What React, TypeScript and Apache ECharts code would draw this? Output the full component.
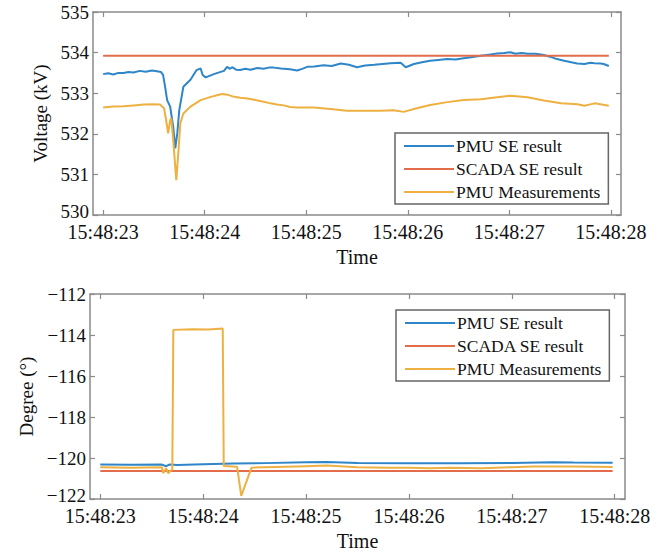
import { useEffect, useRef } from "react";
import * as echarts from "echarts";

const seriesNames = ["PMU SE result", "SCADA SE result", "PMU Measurements"];
const seriesColors = ["#2e86c8", "#e36c4c", "#eeb040"];
const xTicks = [23, 24, 25, 26, 27, 28];

// Voltage chart (kV), time in seconds after 15:48:00
const vPmuSeT = [23.0, 23.05, 23.1, 23.15, 23.2, 23.25, 23.3, 23.36, 23.42, 23.48, 23.53, 23.57, 23.59, 23.61, 23.63, 23.66, 23.69, 23.71, 23.73, 23.75, 23.79, 23.86, 23.92, 23.96, 23.98, 24.01, 24.09, 24.15, 24.19, 24.22, 24.25, 24.27, 24.31, 24.35, 24.4, 24.45, 24.52, 24.58, 24.63, 24.68, 24.75, 24.84, 24.91, 24.96, 25.01, 25.08, 25.17, 25.25, 25.34, 25.42, 25.5, 25.58, 25.67, 25.75, 25.83, 25.93, 25.98, 26.06, 26.14, 26.22, 26.3, 26.39, 26.47, 26.55, 26.64, 26.72, 26.8, 26.88, 26.95, 27.01, 27.06, 27.12, 27.18, 27.26, 27.34, 27.4, 27.47, 27.54, 27.61, 27.67, 27.74, 27.8, 27.84, 27.9, 27.93, 27.98];
const vPmuSeV = [533.47, 533.49, 533.46, 533.5, 533.5, 533.52, 533.51, 533.55, 533.53, 533.56, 533.54, 533.52, 533.45, 533.16, 532.83, 532.67, 532.17, 531.64, 532.01, 532.59, 533.16, 533.33, 533.57, 533.61, 533.45, 533.39, 533.47, 533.52, 533.55, 533.65, 533.6, 533.64, 533.58, 533.57, 533.6, 533.58, 533.62, 533.6, 533.63, 533.63, 533.61, 533.59, 533.56, 533.6, 533.65, 533.66, 533.69, 533.67, 533.73, 533.7, 533.64, 533.68, 533.7, 533.72, 533.74, 533.75, 533.64, 533.72, 533.76, 533.8, 533.82, 533.84, 533.83, 533.86, 533.89, 533.92, 533.95, 533.98, 533.99, 534.01, 533.97, 533.99, 533.97, 533.97, 533.94, 533.9, 533.84, 533.8, 533.76, 533.73, 533.72, 533.75, 533.74, 533.73, 533.72, 533.67];
const vScadaT = [23.0, 27.98];
const vScadaV = [533.92, 533.92];
const vMeasT = [23.0, 23.1, 23.2, 23.3, 23.4, 23.5, 23.56, 23.6, 23.62, 23.64, 23.66, 23.67, 23.69, 23.72, 23.74, 23.76, 23.79, 23.86, 23.96, 24.06, 24.12, 24.17, 24.23, 24.29, 24.35, 24.42, 24.5, 24.58, 24.65, 24.71, 24.78, 24.84, 24.91, 25.07, 25.24, 25.4, 25.57, 25.73, 25.86, 25.96, 26.06, 26.22, 26.39, 26.55, 26.72, 26.88, 27.01, 27.18, 27.34, 27.51, 27.67, 27.74, 27.84, 27.98];
const vMeasV = [532.65, 532.67, 532.68, 532.7, 532.72, 532.73, 532.72, 532.63, 532.34, 532.01, 532.34, 532.38, 531.85, 530.86, 531.52, 532.26, 532.5, 532.67, 532.83, 532.91, 532.95, 532.98, 532.96, 532.91, 532.89, 532.87, 532.83, 532.79, 532.75, 532.72, 532.7, 532.66, 532.65, 532.65, 532.61, 532.57, 532.57, 532.57, 532.58, 532.54, 532.61, 532.71, 532.78, 532.83, 532.85, 532.9, 532.94, 532.9, 532.82, 532.75, 532.73, 532.69, 532.75, 532.69];

// Angle chart (degree)
const aPmuSeT = [23.0, 23.3, 23.6, 23.64, 23.67, 23.75, 24.0, 24.3, 24.6, 25.0, 25.2, 25.5, 26.0, 26.5, 27.0, 27.4, 27.6, 27.98];
const aPmuSeV = [-120.32, -120.33, -120.32, -120.4, -120.32, -120.34, -120.3, -120.27, -120.25, -120.21, -120.2, -120.24, -120.25, -120.25, -120.24, -120.21, -120.22, -120.23];
const aScadaT = [23.0, 27.98];
const aScadaV = [-120.64, -120.64];
const aMeasT = [23.0, 23.3, 23.6, 23.61, 23.64, 23.66, 23.7, 23.71, 23.9, 24.05, 24.19, 24.2, 24.33, 24.37, 24.47, 24.7, 25.0, 25.2, 25.5, 25.8, 26.0, 26.2, 26.4, 26.7, 27.0, 27.2, 27.6, 27.98];
const aMeasV = [-120.45, -120.47, -120.45, -120.74, -120.5, -120.74, -120.55, -113.75, -113.72, -113.73, -113.68, -120.39, -120.43, -121.85, -120.47, -120.44, -120.4, -120.37, -120.45, -120.48, -120.47, -120.5, -120.48, -120.5, -120.45, -120.42, -120.41, -120.44];

const FONT = "Liberation Serif";
const AXIS_COLOR = "#8a8a8a";

function zip(t: number[], v: number[]) {
  return t.map((x, i) => [x, v[i]]);
}

function numLabel(v: number) {
  return v < 0 ? "\u2212" + Math.abs(v) : String(v);
}

function xAxes(gridIndex: number) {
  const common = {
    gridIndex,
    type: "value" as const,
    min: 22.9,
    max: 28.1,
    splitLine: { show: false },
    axisLine: { show: true, onZero: false, lineStyle: { color: AXIS_COLOR, width: 1.5 } },
    axisTick: { show: true, inside: true, length: 5, customValues: xTicks, lineStyle: { color: AXIS_COLOR, width: 1.2 } },
  };
  return [
    {
      ...common,
      position: "bottom",
      axisLabel: {
        customValues: xTicks,
        formatter: (v: number) => "15:48:" + v,
        fontSize: 20,
        lineHeight: 14,
        fontFamily: FONT,
        color: "#111",
        margin: 10,
      },
      name: "Time",
      nameLocation: "middle",
      nameGap: 32,
      nameTextStyle: { fontSize: 20, fontFamily: FONT, color: "#111" },
    },
    { ...common, position: "top", axisLabel: { show: false } },
  ];
}

function yAxes(gridIndex: number, min: number, max: number, interval: number, name: string, nameGap: number) {
  const common = {
    gridIndex,
    type: "value" as const,
    min,
    max,
    interval,
    splitLine: { show: false },
    axisLine: { show: true, onZero: false, lineStyle: { color: AXIS_COLOR, width: 1.5 } },
    axisTick: { show: true, inside: true, length: 5, lineStyle: { color: AXIS_COLOR, width: 1.2 } },
  };
  return [
    {
      ...common,
      position: "left",
      axisLabel: {
        formatter: (v: number) => (v === min ? "{lo|" + numLabel(v) + "}" : numLabel(v)),
        rich: { lo: { fontSize: 19, lineHeight: 13, fontFamily: FONT, color: "#111", padding: [0, 0, 8, 0] } },
        fontSize: 19,
        lineHeight: 13,
        fontFamily: FONT,
        color: "#111",
        margin: 4,
      },
      name,
      nameLocation: "middle",
      nameGap,
      nameRotate: 90,
      nameTextStyle: { fontSize: 19, fontFamily: FONT, color: "#111" },
    },
    { ...common, position: "right", axisLabel: { show: false } },
  ];
}

function legend(left: number, top: number) {
  return {
    left,
    top,
    orient: "vertical",
    data: seriesNames,
    itemWidth: 50,
    itemHeight: 14,
    itemGap: 5,
    itemStyle: { opacity: 0 },
    borderColor: "#666",
    borderWidth: 1.5,
    borderRadius: 0,
    backgroundColor: "#fff",
    padding: [4, 8, 3, 8],
    textStyle: { fontSize: 17.5, fontFamily: FONT, color: "#111", padding: [0, 0, 0, -3] },
  };
}

function lineSeries(name: string, idx: number, axis: number, data: number[][]) {
  return {
    name,
    type: "line",
    xAxisIndex: axis * 2,
    yAxisIndex: axis * 2,
    data,
    symbol: "none",
    showSymbol: false,
    lineStyle: { width: 2, color: seriesColors[idx] },
    itemStyle: { color: seriesColors[idx] },
  };
}

export default function App() {
  const ref = useRef<HTMLDivElement>(null);
  useEffect(() => {
    if (!ref.current) return;
    const chart = echarts.init(ref.current, null, { renderer: "svg" });
    chart.setOption({
      animation: false,
      backgroundColor: "#fff",
      grid: [
        { left: 93, top: 12, width: 528, height: 203 },
        { left: 90, top: 294, width: 535, height: 209 },
      ],
      xAxis: [...xAxes(0), ...xAxes(1)],
      yAxis: [
        ...yAxes(0, 530, 535, 1, "Voltage (kV)", 42),
        ...yAxes(1, -122, -112, 2, "Degree (°)", 48),
      ],
      legend: [legend(395, 133), legend(396, 310)],
      series: [
        lineSeries(seriesNames[0], 0, 0, zip(vPmuSeT, vPmuSeV)),
        lineSeries(seriesNames[1], 1, 0, zip(vScadaT, vScadaV)),
        lineSeries(seriesNames[2], 2, 0, zip(vMeasT, vMeasV)),
        lineSeries(seriesNames[0], 0, 1, zip(aPmuSeT, aPmuSeV)),
        lineSeries(seriesNames[1], 1, 1, zip(aScadaT, aScadaV)),
        lineSeries(seriesNames[2], 2, 1, zip(aMeasT, aMeasV)),
      ],
    });
    return () => chart.dispose();
  }, []);
  return <div ref={ref} style={{ position: "absolute", left: 0, top: 0, width: 667, height: 552 }} />;
}
